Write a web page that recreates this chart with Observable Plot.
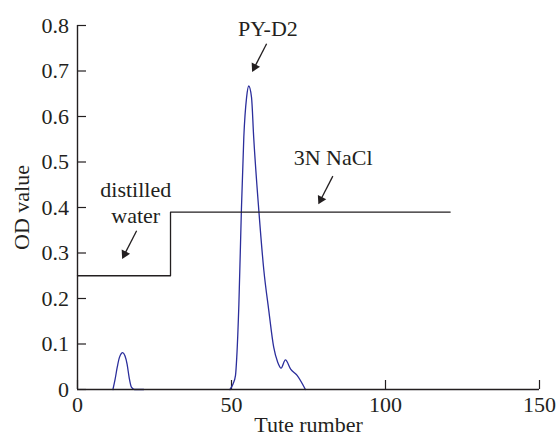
<!DOCTYPE html>
<html><head><meta charset="utf-8">
<script src="https://cdn.jsdelivr.net/npm/d3@7"></script>
<script src="https://cdn.jsdelivr.net/npm/@observablehq/plot@0.6"></script>
<style>body{margin:0;background:#fff}</style>
</head><body><div id="chart"></div>
<script>
// ---- data ----
const xTicks = [0, 50, 100, 150];
const yTicks = [0, 0.1, 0.2, 0.3, 0.4, 0.5, 0.6, 0.7, 0.8];
const yTickLabels = ["0", "0.1", "0.2", "0.3", "0.4", "0.5", "0.6", "0.7", "0.8"];

const peak1X = [11.5, 12.2, 12.9, 13.6, 14.7, 15.4, 16.1, 16.8, 17.5, 18.5, 21.5];
const peak1Y = [0, 0.022, 0.049, 0.070, 0.081, 0.074, 0.056, 0.025, 0.005, 0, 0];

const peak2X = [49.5, 50.5, 51.3, 51.7, 52.4, 53.2, 54.0, 54.9, 55.6, 56.5, 57.2, 58.9, 60.5, 62.1, 63.7, 65.0, 66.1, 67.5, 69.2, 71.3, 74.0];
const peak2Y = [0, 0.012, 0.031, 0.07, 0.188, 0.391, 0.555, 0.642, 0.667, 0.642, 0.555, 0.391, 0.262, 0.174, 0.093, 0.060, 0.047, 0.065, 0.045, 0.031, 0];

const stepX = [0, 30.2, 121];
const stepY = [0.25, 0.39, 0.39];

const labels = ["PY-D2", "3N NaCl", "distilled\nwater"];
const labelX = [61.8, 83.0, 18.9];
const labelY = [0.776, 0.494, 0.3655];

const arrowX1 = [61.4, 82.9, 19.2];
const arrowY1 = [0.760, 0.469, 0.349];
const arrowX2 = [56.7, 78.2, 14.5];
const arrowY2 = [0.698, 0.407, 0.287];

// ---- layout ----
const W = 558, H = 437, ML = 77, MR = 19, MT = 25, MB = 48;
const ink = "#231f20", blue = "#2b2e9c";

const curve = [
  ...peak1X.map((x, i) => ({x, y: peak1Y[i], seg: "a"})),
  ...peak2X.map((x, i) => ({x, y: peak2Y[i], seg: "b"}))
];
const step = stepX.map((x, i) => ({x, y: stepY[i]}));
const notes = labels.map((t, i) => ({t, x: labelX[i], y: labelY[i]}));

const sx = Plot.scale({x: {domain: [0, 150], range: [ML, W - MR]}});
const sy = Plot.scale({y: {domain: [0, 0.8], range: [H - MB, MT]}});
const headTip = 5.4, shaftBack = 4;
const arrows = arrowX1.map((x1, i) => {
  const px1 = sx.apply(x1), py1 = sy.apply(arrowY1[i]);
  const px2 = sx.apply(arrowX2[i]), py2 = sy.apply(arrowY2[i]);
  const dx = px2 - px1, dy = py2 - py1, len = Math.hypot(dx, dy);
  const ux = dx / len, uy = dy / len;
  return {
    x1, y1: arrowY1[i],
    x2: sx.invert(px2 - ux * shaftBack), y2: sy.invert(py2 - uy * shaftBack),
    hx: sx.invert(px2 - ux * headTip), hy: sy.invert(py2 - uy * headTip),
    angle: Math.atan2(dx, -dy) * 180 / Math.PI
  };
});

const chart = Plot.plot({
  width: W, height: H,
  marginLeft: ML, marginRight: MR, marginTop: MT, marginBottom: MB,
  x: {domain: [0, 150]},
  y: {domain: [0, 0.8]},
  style: {fontFamily: "'Liberation Serif', 'Times New Roman', serif", fontSize: "22px", color: ink, background: "white"},
  marks: [
    Plot.axisX({ticks: xTicks, tickSize: 9, dy: -9, fill: "none", stroke: ink, strokeWidth: 1.2, label: null}),
    Plot.axisX({ticks: xTicks, tickSize: 0, tickPadding: 7, fill: ink, label: null, fontSize: 22}),
    Plot.axisY({ticks: yTicks, tickSize: 9, dx: 9, fill: "none", stroke: ink, strokeWidth: 1.2, label: null}),
    Plot.axisY({ticks: yTicks, tickSize: 0, tickPadding: 8.5, fill: ink, label: null, fontSize: 22,
      tickFormat: d => yTickLabels[yTicks.indexOf(d)]}),
    Plot.line(curve, {x: "x", y: "y", z: "seg", stroke: blue, strokeWidth: 1.3, curve: "monotone-x"}),
    Plot.line(step, {x: "x", y: "y", stroke: ink, strokeWidth: 1.3, curve: "step-after"}),
    Plot.ruleX([0], {stroke: ink, strokeWidth: 1.4}),
    Plot.ruleY([0], {stroke: ink, strokeWidth: 1.4}),
    Plot.link(arrows, {x1: "x1", y1: "y1", x2: "x2", y2: "y2", stroke: ink, strokeWidth: 1.3}),
    Plot.dot(arrows, {x: "hx", y: "hy", symbol: "triangle", r: 3.5, fill: ink, stroke: "none", rotate: "angle"}),
    Plot.text(notes, {x: "x", y: "y", text: "t", textAnchor: "middle", lineAnchor: "bottom", lineHeight: 1.18, fontSize: 22, fill: ink}),
    Plot.text(["OD value"], {text: d => d, frameAnchor: "left", dx: -49, rotate: -90, textAnchor: "middle", lineAnchor: "bottom", fontSize: 22, fill: ink}),
    Plot.text(["Tute rumber"], {text: d => d, frameAnchor: "bottom", dy: 42, textAnchor: "middle", lineAnchor: "bottom", fontSize: 22, fill: ink})
  ]
});
document.getElementById("chart").appendChild(chart);
</script>
</body></html>
